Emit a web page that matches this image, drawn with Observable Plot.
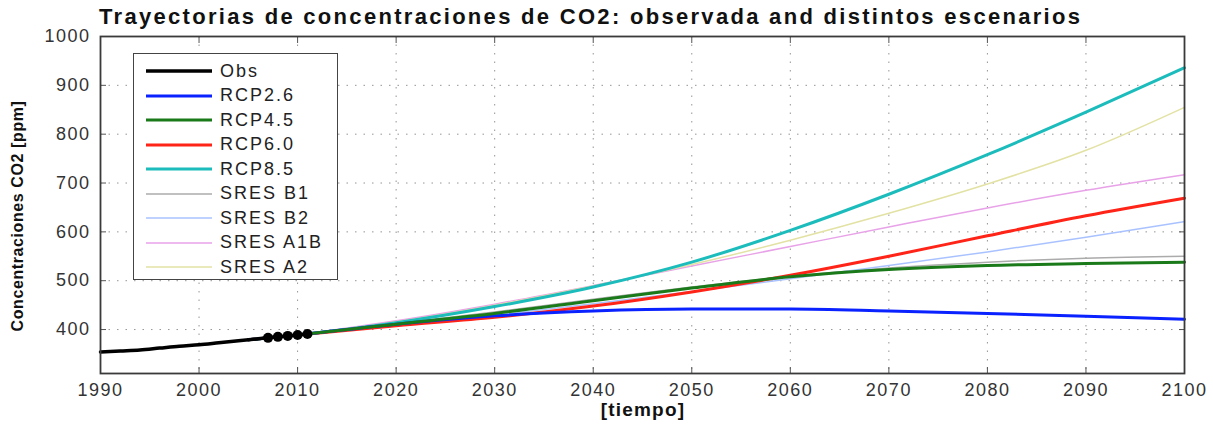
<!DOCTYPE html>
<html>
<head>
<meta charset="utf-8">
<script src="https://cdn.jsdelivr.net/npm/d3@7"></script>
<script src="https://cdn.jsdelivr.net/npm/@observablehq/plot@0.6"></script>
<style>
  html, body { margin: 0; padding: 0; background: #fff; }
  #wrap { position: relative; width: 1213px; height: 425px; font-family: "Liberation Sans", Arial, sans-serif; }
  #title { position: absolute; left: 99px; top: 4px; font-size: 22px; font-weight: bold; color: #111; letter-spacing: 2.3px; white-space: nowrap; }
  #ylab { position: absolute; left: 18px; top: 216px; transform: translate(-50%, -50%) rotate(-90deg); font-size: 16px; font-weight: bold; color: #111; letter-spacing: 0.6px; white-space: nowrap; }
  #xlab { position: absolute; left: 643px; top: 399px; transform: translateX(-50%); font-size: 19px; font-weight: bold; color: #111; letter-spacing: 1.2px; white-space: nowrap; }
  #legend { position: absolute; left: 133px; top: 53px; width: 205px; height: 227px; border: 1.5px solid #444; background: #fff; box-sizing: border-box; }
  .lg { position: absolute; left: 12px; height: 20px; display: flex; align-items: center; font-size: 18px; color: #222; letter-spacing: 2px; }
  .lg svg { margin-right: 8px; }
</style>
</head>
<body>
<div id="wrap">
  <div id="chart"></div>
  <div id="title"></div>
  <div id="ylab"></div>
  <div id="xlab"></div>
  <div id="legend"></div>
</div>
<script>
const titleText = "Trayectorias de concentraciones de CO2: observada and distintos escenarios";
const yLabel = "Concentraciones CO2 [ppm]";
const xLabel = "[tiempo]";

const xTicks = [1990, 2000, 2010, 2020, 2030, 2040, 2050, 2060, 2070, 2080, 2090, 2100];
const yTicks = [400, 500, 600, 700, 800, 900, 1000];

// Observed
const obsYears = [1990, 1992, 1994, 1996, 1998, 2000, 2002, 2004, 2006, 2007, 2008, 2009, 2010, 2011];
const obsValues = [354, 356, 358, 362, 366, 369, 373, 377, 381, 383, 385, 387, 389, 391];
const obsMarkYears = [2007, 2008, 2009, 2010, 2011];
const obsMarkValues = [383, 385, 387, 389, 391];

// Scenario years
const scenYears = [2005, 2010, 2020, 2030, 2040, 2050, 2060, 2070, 2080, 2090, 2100];
const rcp26 = [379, 389, 411, 428, 438, 442, 442, 438, 433, 427, 421];
const rcp45 = [379, 389, 411, 433, 459, 485, 508, 523, 531, 535, 538];
const rcp60 = [379, 389, 408, 425, 448, 477, 511, 550, 592, 633, 669];
const rcp85 = [379, 389, 414, 447, 487, 538, 603, 677, 758, 845, 936];
const sresB1 = [379, 389, 412, 436, 462, 487, 509, 526, 538, 546, 550];
const sresB2 = [379, 389, 408, 429, 453, 478, 504, 531, 559, 589, 621];
const sresA1B = [379, 390, 418, 452, 490, 530, 570, 610, 649, 685, 717];
const sresA2 = [379, 389, 416, 450, 489, 533, 583, 638, 698, 767, 855];

const seriesNames = ["Obs", "RCP2.6", "RCP4.5", "RCP6.0", "RCP8.5", "SRES B1", "SRES B2", "SRES A1B", "SRES A2"];
const seriesColors = ["#000000", "#0a22ff", "#1a7a1a", "#ff2418", "#1cbcbc", "#ababab", "#a9c2ff", "#e8a2e8", "#e2e2a4"];
const seriesWidths = [3.5, 3, 3, 3, 3, 1.5, 1.5, 1.5, 1.5];
const scenData = [null, rcp26, rcp45, rcp60, rcp85, sresB1, sresB2, sresA1B, sresA2];

const color = Object.fromEntries(seriesNames.map((n, i) => [n, seriesColors[i]]));
const width = Object.fromEntries(seriesNames.map((n, i) => [n, seriesWidths[i]]));

function rows(name, years, vals) {
  return years.map((y, i) => ({series: name, year: y, value: vals[i]}));
}

const drawOrder = ["SRES B1", "SRES B2", "SRES A1B", "SRES A2", "RCP8.5", "RCP6.0", "RCP2.6", "RCP4.5"];
const lineMarks = drawOrder.map(n => {
  const idx = seriesNames.indexOf(n);
  return Plot.line(rows(n, scenYears, scenData[idx]), {x: "year", y: "value", stroke: color[n], strokeWidth: width[n], curve: "monotone-x"});
});

const obsRows = rows("Obs", obsYears, obsValues);
const obsMarkRows = rows("Obs", obsMarkYears, obsMarkValues);

const gridStyle = {stroke: "#8a8a8a", strokeOpacity: 0.9, strokeDasharray: "1.5,7", strokeWidth: 1};

const chart = Plot.plot({
  width: 1213,
  height: 425,
  marginLeft: 100,
  marginRight: 29,
  marginTop: 36,
  marginBottom: 52,
  style: {fontFamily: "Liberation Sans, Arial, sans-serif", fontSize: "18px", color: "#333", background: "#fff"},
  x: {domain: [1990, 2100]},
  y: {domain: [310, 1000]},
  marks: [
    Plot.gridX(xTicks.slice(1, -1), gridStyle),
    Plot.gridY(yTicks.slice(0, -1), gridStyle),
    ...lineMarks,
    Plot.line(obsRows, {x: "year", y: "value", stroke: color["Obs"], strokeWidth: width["Obs"], curve: "monotone-x"}),
    Plot.dot(obsMarkRows, {x: "year", y: "value", r: 5, fill: "#000"}),
    Plot.axisX(xTicks, {anchor: "bottom", tickSize: -6, tickPadding: 16, tickFormat: d => String(d), stroke: "#555", fill: "#333", label: null}),
    Plot.axisX(xTicks, {anchor: "top", tickSize: -6, tickFormat: () => "", stroke: "#555", label: null}),
    Plot.axisY(yTicks, {anchor: "left", tickSize: -6, tickPadding: 16, tickFormat: d => String(d), stroke: "#555", fill: "#333", label: null}),
    Plot.axisY(yTicks, {anchor: "right", tickSize: -6, tickFormat: () => "", stroke: "#555", label: null}),
    Plot.frame({stroke: "#3a3a3a", strokeWidth: 1.8})
  ]
});
document.getElementById("chart").appendChild(chart);
d3.select(chart).selectAll("g[aria-label='x-axis tick label'] text, g[aria-label='y-axis tick label'] text").attr("letter-spacing", "1.5px");

document.getElementById("title").textContent = titleText;
document.getElementById("ylab").textContent = yLabel;
document.getElementById("xlab").textContent = xLabel;

const legend = document.getElementById("legend");
seriesNames.forEach((n, i) => {
  const item = document.createElement("div");
  item.className = "lg";
  item.style.top = (7 + i * 24.5) + "px";
  item.innerHTML = `<svg width="66" height="8"><line x1="0" x2="66" y1="4" y2="4" stroke="${color[n]}" stroke-width="${width[n]}"/></svg><span>${n}</span>`;
  legend.appendChild(item);
});
</script>
</body>
</html>
